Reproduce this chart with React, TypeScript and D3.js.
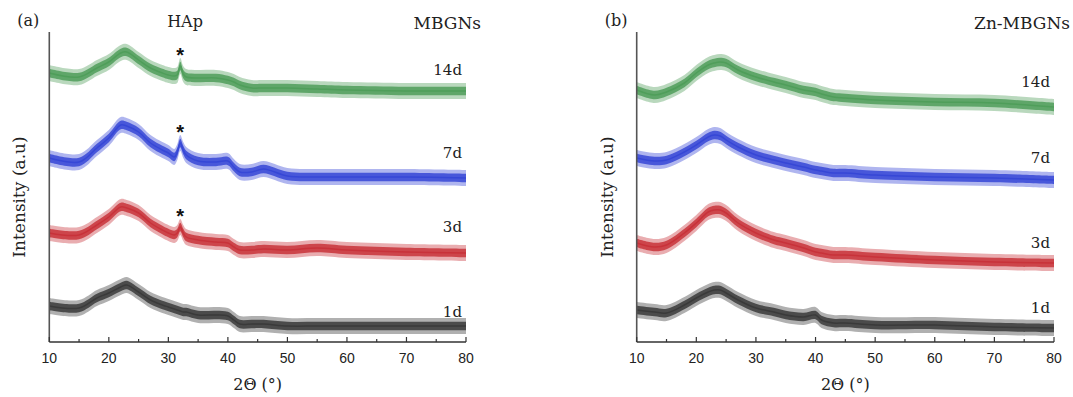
import React from "react";
import * as d3 from "d3";

// 2θ sample positions (degrees)
const xA = [10, 15, 18, 20, 22, 23, 25, 27, 29, 30, 31, 31.5, 32, 32.5, 33, 35, 38, 40, 41, 42, 44, 46, 50, 55, 60, 70, 80];
const xB = [10, 13, 15, 18, 20, 22, 23, 24, 25, 27, 30, 33, 35, 38, 40, 41, 43, 45, 50, 60, 70, 80];

// Panel (a) MBGNs, stacked intensities (a.u.)
const a14d = [269, 265, 274, 280, 289, 290, 282, 274, 269, 267, 266, 267, 276, 268, 265, 264, 264, 262, 260, 257, 254, 254, 254, 253, 252, 251, 251];
const a7d = [184, 180, 194, 204, 217, 216, 210, 199, 192, 189, 185, 190, 199, 192, 187, 181, 180, 181, 175, 170, 170, 173, 166, 165, 165, 165, 164];
const a3d = [109, 107, 117, 125, 135, 134, 129, 119, 112, 109, 107, 109, 115, 109, 105, 102, 100, 99, 95, 92, 92, 93, 92, 94, 92, 90, 89];
const a1d = [36, 34, 44, 49, 55, 57, 50, 42, 37, 35, 33, 32, 31, 30, 30, 27, 27, 26, 22, 18, 18, 18, 16, 16, 16, 16, 16];

// Panel (b) Zn-MBGNs
const b14d = [252, 247, 250, 259, 269, 277, 279, 280, 279, 272, 265, 260, 257, 252, 250, 248, 245, 244, 242, 240, 239, 235];
const b7d = [184, 181, 182, 190, 197, 205, 207, 206, 202, 195, 187, 182, 179, 175, 172, 171, 169, 169, 167, 165, 164, 162];
const b3d = [99, 95, 97, 109, 119, 130, 132, 132, 129, 119, 109, 102, 99, 94, 90, 89, 87, 87, 85, 82, 80, 79];
const b1d = [32, 30, 29, 37, 44, 50, 52, 52, 49, 42, 34, 30, 27, 25, 27, 22, 19, 19, 17, 17, 15, 14];

const seriesLabels = ["14d", "7d", "3d", "1d"];
const xTicks = [10, 20, 30, 40, 50, 60, 70, 80];
const xMinorTicks = [15, 25, 35, 45, 55, 65, 75];
const hapPeak = 32;

const colors = ["#4f9e5a", "#3647d6", "#c8323a", "#3a3a3a"];
const W = 1073;
const H = 397;
const serif = "'DejaVu Serif', serif";
const sans = "'Liberation Sans', Arial, sans-serif";

type PanelProps = {
  left: number;
  right: number;
  xs: number[];
  data: number[][];
  tag: string;
  title: string;
  titleRight: number;
  labelY: number[];
  stars: boolean;
};

function Panel({ left, right, xs, data, tag, title, titleRight, labelY, stars }: PanelProps) {
  const top = 32;
  const bottom = 342;
  const x = d3.scaleLinear().domain([10, 80]).range([left, right]);
  const y = d3.scaleLinear().domain([0, 310]).range([bottom, top]);
  const curve = d3.curveCatmullRom.alpha(0.5);
  const band = (hw: number) =>
    d3
      .area<number>()
      .x((_, i) => x(xs[i]))
      .y0((d) => y(d - hw))
      .y1((d) => y(d + hw))
      .curve(curve);
  const outer = band(8);
  const inner = band(4.2);
  const line = d3
    .line<number>()
    .x((_, i) => x(xs[i]))
    .y((d) => y(d))
    .curve(curve);
  const midX = (left + right) / 2;
  const idx32 = xs.indexOf(hapPeak);
  return (
    <g>
      {data.map((s, k) => (
        <g key={k}>
          <path d={outer(s) || ""} fill={colors[k]} opacity={0.4} />
          <path d={inner(s) || ""} fill={colors[k]} opacity={0.85} />
          <path d={line(s) || ""} fill="none" stroke={colors[k]} strokeWidth={1.5} />
        </g>
      ))}
      {stars &&
        data.slice(0, 3).map((s, k) => (
          <text
            key={"s" + k}
            x={x(hapPeak)}
            y={y(s[idx32]) - 4}
            textAnchor="middle"
            fontFamily={sans}
            fontWeight="bold"
            fontSize={20}
            fill="#111"
          >
            *
          </text>
        ))}
      {seriesLabels.map((l, k) => (
        <text key={l} x={right - 4} y={labelY[k]} textAnchor="end" fontFamily={serif} fontSize={15} fill="#222">
          {l}
        </text>
      ))}
      {/* axes */}
      <line x1={left} x2={left} y1={top} y2={bottom} stroke="#555" strokeWidth={1.6} />
      <line x1={left} x2={right} y1={bottom} y2={bottom} stroke="#333" strokeWidth={1.4} />
      {xTicks.map((t) => (
        <g key={t}>
          <line x1={x(t)} x2={x(t)} y1={bottom} y2={bottom - 5} stroke="#333" strokeWidth={1.2} />
          <text x={x(t)} y={363} textAnchor="middle" fontFamily={sans} fontSize={14} fill="#222">
            {t}
          </text>
        </g>
      ))}
      {xMinorTicks.map((t) => (
        <line key={t} x1={x(t)} x2={x(t)} y1={bottom} y2={bottom - 3} stroke="#333" strokeWidth={1.2} />
      ))}
      <text x={midX} y={390} textAnchor="middle" fontFamily={serif} fontSize={16} fill="#222">
        2Θ (°)
      </text>
      <text
        transform={`translate(${left - 24},197) rotate(-90)`}
        textAnchor="middle"
        fontFamily={serif}
        fontSize={17}
        fill="#222"
      >
        Intensity (a.u)
      </text>
      <text x={left - 32} y={26} fontFamily={serif} fontSize={16} fill="#222">
        {tag}
      </text>
      <text x={titleRight} y={29} textAnchor="end" fontFamily={serif} fontSize={17} fill="#222">
        {title}
      </text>
    </g>
  );
}

export default function App() {
  return (
    <svg width={W} height={H} style={{ position: "absolute", left: 0, top: 0, background: "#fff" }}>
      <Panel
        left={49.3}
        right={466}
        xs={xA}
        data={[a14d, a7d, a3d, a1d]}
        tag="(a)"
        title="MBGNs"
        titleRight={481}
        labelY={[75, 158, 232, 317]}
        stars={true}
      />
      <text x={185} y={27} textAnchor="middle" fontFamily={serif} fontSize={16} fill="#222">
        HAp
      </text>
      <Panel
        left={636.7}
        right={1054}
        xs={xB}
        data={[b14d, b7d, b3d, b1d]}
        tag="(b)"
        title="Zn-MBGNs"
        titleRight={1070}
        labelY={[87, 163, 248, 313]}
        stars={false}
      />
    </svg>
  );
}
